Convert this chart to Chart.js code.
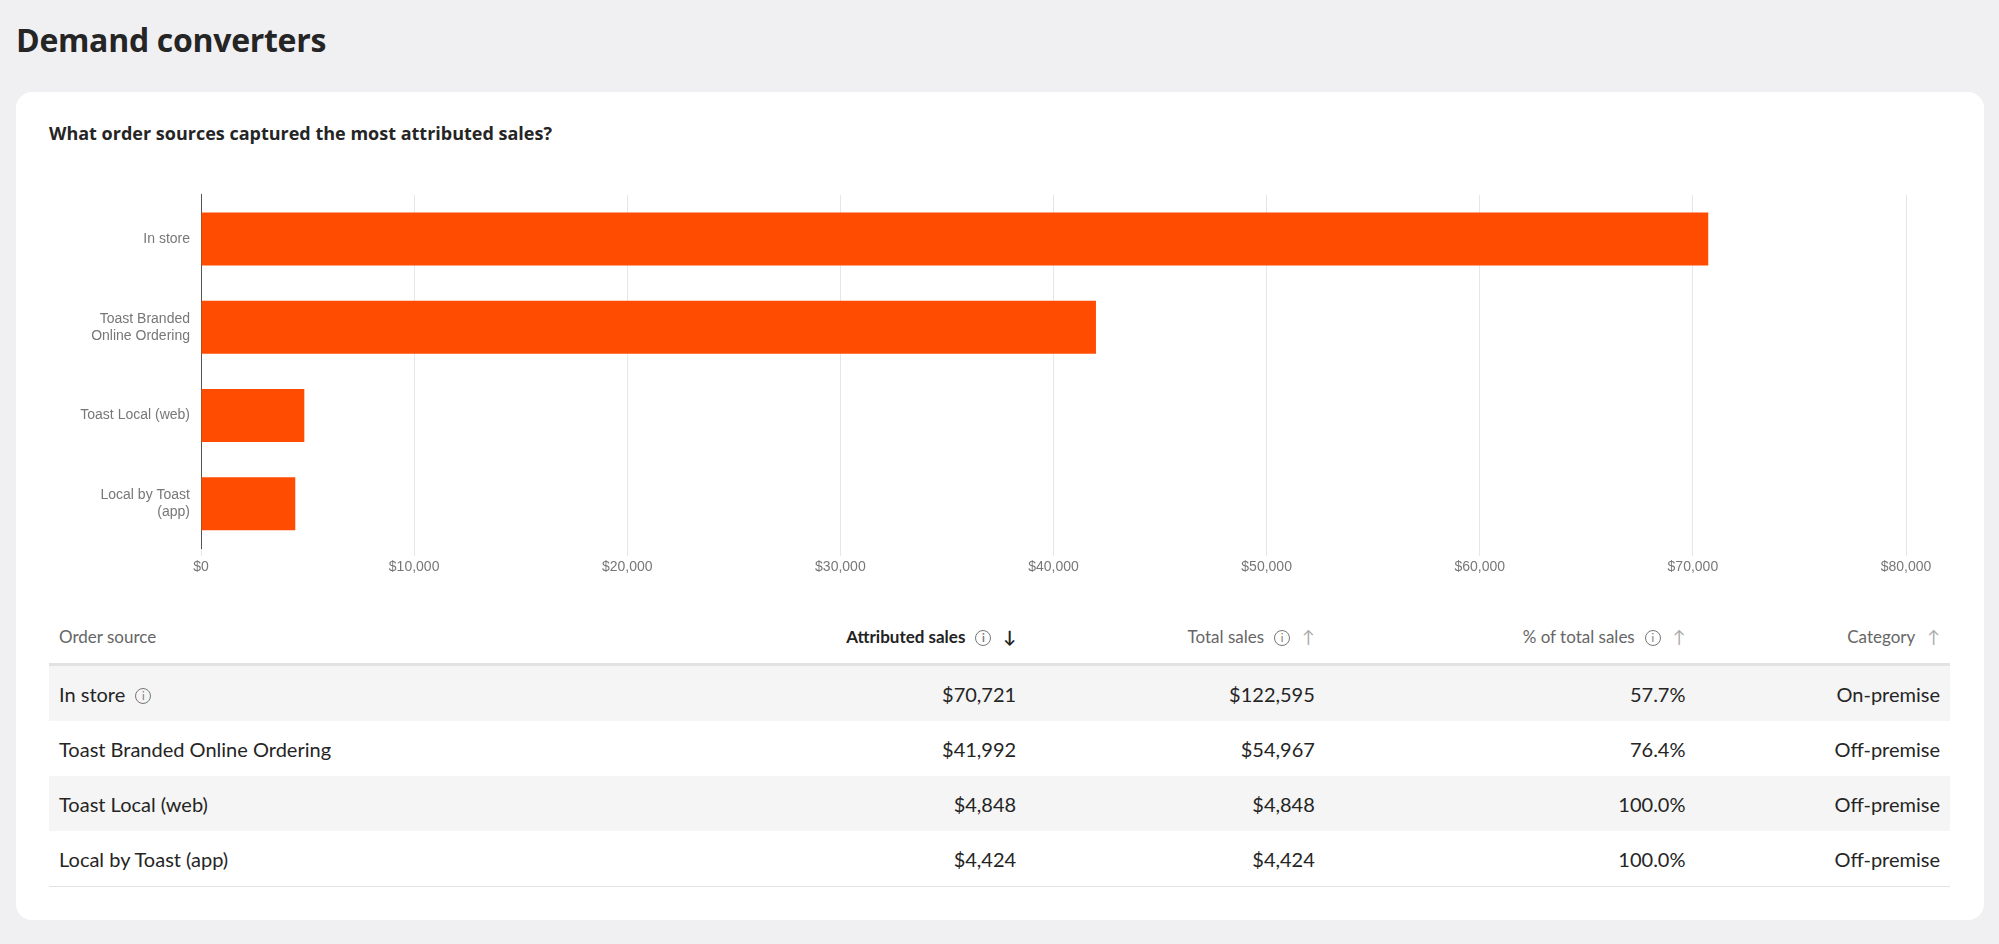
<!DOCTYPE html>
<html>
<head>
<meta charset="utf-8">
<script src="https://cdn.jsdelivr.net/npm/chart.js@4"></script>
<style>
  body { margin: 0; width: 1999px; height: 944px; background: #f0f0f2; font-family: Lato, "Open Sans", sans-serif; color: #252525; position: relative; overflow: hidden; }
  h1 { position: absolute; left: 16px; top: 18px; margin: 0; font-size: 32px; font-weight: 700; font-family: "Open Sans", sans-serif; letter-spacing: -0.3px; }
  .card { position: absolute; left: 16px; top: 92px; width: 1968px; height: 828px; background: #fff; border-radius: 16px; }
  .sub { position: absolute; left: 49px; top: 121px; font-size: 18px; font-weight: 700; font-family: "Open Sans", sans-serif; }
  #wrap { position: absolute; left: 20px; top: 175px; width: 1926px; height: 413px; }
  table { position: absolute; left: 49px; top: 609px; width: 1901px; border-collapse: collapse; font-size: 20px; }
  th { font-size: 17px; font-weight: 400; color: #666; height: 54px; text-align: right; border-bottom: 3px solid #e2e2e2; padding: 0 10px; }
  th.b { color: #222; font-weight: 700; }
  th:first-child, td:first-child { text-align: left; }
  td { height: 55px; padding: 0 10px; text-align: right; }
  tr:nth-child(even) td { background: #f5f5f5; }
  tr:last-child td { border-bottom: 1px solid #e2e2e2; }
  .i { display: inline-block; width: 14px; height: 14px; border: 1.5px solid #777; border-radius: 50%; font-size: 11px; line-height: 14px; text-align: center; margin-left: 10px; vertical-align: middle; color: #777; }
  .arr { margin-left: 12px; color: #aaa; }
  th.b .arr { color: #222; }
</style>
</head>
<body>
<h1>Demand converters</h1>
<div class="card"></div>
<div class="sub">What order sources captured the most attributed sales?</div>
<div id="wrap"><canvas id="c"></canvas></div>
<table id="t"></table>
<script>
const sources = ["In store", "Toast Branded Online Ordering", "Toast Local (web)", "Local by Toast (app)"];
const axisLabels = ["In store", ["Toast Branded", "Online Ordering"], "Toast Local (web)", ["Local by Toast", "(app)"]];
const attributed = [70721, 41992, 4848, 4424];
const totalSales = [122595, 54967, 4848, 4424];
const pctTotal = ["57.7%", "76.4%", "100.0%", "100.0%"];
const categories = ["On-premise", "Off-premise", "Off-premise", "Off-premise"];

const fmt = v => '$' + v.toLocaleString('en-US');

new Chart(document.getElementById('c'), {
  type: 'bar',
  data: { labels: axisLabels, datasets: [{ data: attributed, backgroundColor: '#ff4c00', barPercentage: 0.6, categoryPercentage: 1 }] },
  options: {
    indexAxis: 'y', responsive: true, maintainAspectRatio: false, animation: false,
    layout: { padding: { top: 8, right: 40 } },
    plugins: { legend: { display: false }, tooltip: { enabled: false } },
    scales: {
      x: {
        min: 0, max: 80000,
        ticks: { stepSize: 10000, color: '#777', font: { family: 'Liberation Sans', size: 14 }, callback: v => fmt(v) },
        grid: { color: '#e6e6ee' }, border: { display: false },
        afterFit: s => { s.height = 40; }
      },
      y: {
        ticks: { color: '#777', font: { family: 'Liberation Sans', size: 14 } },
        grid: { display: false }, border: { color: '#555' },
        afterFit: s => { s.width = 181; }
      }
    }
  }
});

const info = '<span class="i">i</span>';
let html = '<tr><th>Order source</th><th class="b">Attributed sales' + info + '<span class="arr">&#8595;</span></th>' +
  '<th>Total sales' + info + '<span class="arr">&#8593;</span></th>' +
  '<th>% of total sales' + info + '<span class="arr">&#8593;</span></th>' +
  '<th>Category<span class="arr">&#8593;</span></th></tr>';
sources.forEach((s, i) => {
  html += '<tr><td>' + s + (i === 0 ? info : '') + '</td><td>' + fmt(attributed[i]) + '</td><td>' + fmt(totalSales[i]) +
    '</td><td>' + pctTotal[i] + '</td><td>' + categories[i] + '</td></tr>';
});
document.getElementById('t').innerHTML = html;
</script>
</body>
</html>
